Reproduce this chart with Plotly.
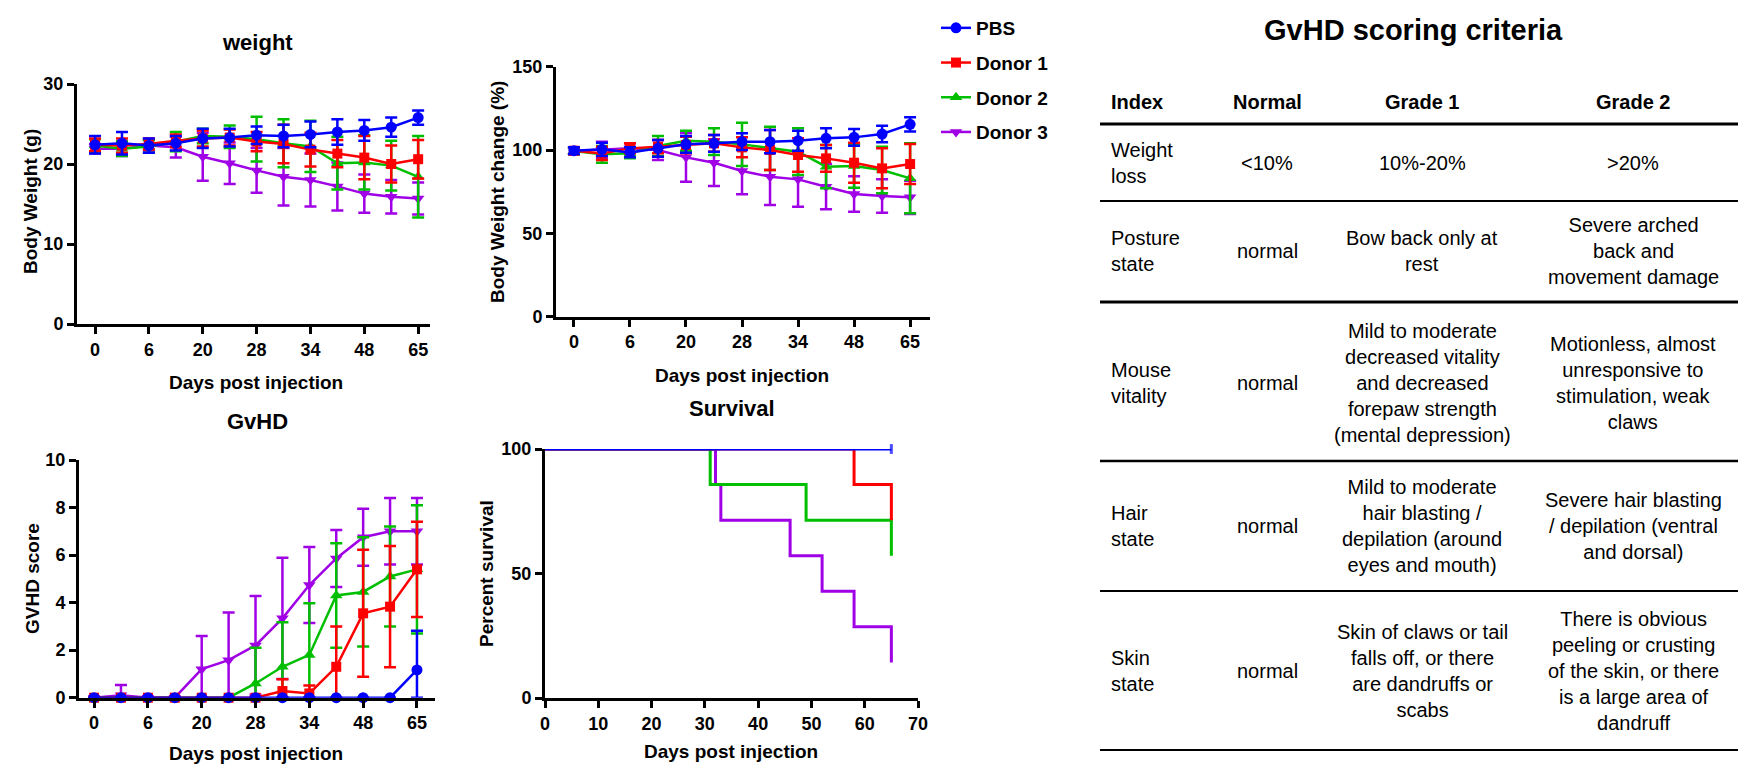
import plotly.graph_objects as go

W, H = 1738, 784
FONT = "Liberation Sans, Arial, sans-serif"

# ---------------- data ----------------
groups = ["PBS", "Donor 1", "Donor 2", "Donor 3"]
colors = ["#0000FF", "#FF0000", "#00BF00", "#A000E6"]
symbols = ["circle", "square", "triangle-up", "triangle-down"]
marker_sizes = [11, 10, 11, 11]

time_index = list(range(13))
tick_positions = [0, 2, 4, 6, 8, 10, 12]
tick_labels = ["0", "6", "20", "28", "34", "48", "65"]

weight = [
    [22.4, 22.6, 22.3, 22.6, 23.2, 23.3, 23.6, 23.5, 23.7, 24.0, 24.2, 24.6, 25.8],
    [22.4, 22.3, 22.5, 22.9, 23.2, 23.3, 22.8, 22.5, 21.8, 21.3, 20.8, 20.0, 20.6],
    [22.3, 21.9, 22.2, 22.8, 23.5, 23.4, 23.1, 22.6, 22.2, 20.1, 20.2, 19.8, 18.4],
    [21.9, 21.9, 22.3, 22.1, 20.9, 20.1, 19.2, 18.4, 18.0, 17.2, 16.3, 15.9, 15.7],
]
weight_err = [
    [1.1, 1.4, 0.9, 0.9, 1.2, 1.1, 1.1, 1.4, 1.6, 1.6, 1.3, 1.2, 0.9],
    [0.8, 0.9, 0.7, 0.8, 1.0, 1.0, 1.2, 2.4, 2.1, 1.7, 2.7, 2.3, 2.4],
    [0.8, 0.9, 0.8, 1.2, 0.9, 1.4, 2.8, 3.0, 3.2, 3.3, 3.4, 3.1, 5.1],
    [0.6, 0.9, 0.7, 1.3, 3.0, 2.6, 2.8, 3.6, 3.3, 3.0, 2.4, 2.1, 2.0],
]

change = [
    [99.6, 100.4, 98.6, 101.0, 103.4, 104.0, 105.0, 105.0, 105.6, 107.0, 107.6, 109.6, 115.4],
    [99.6, 98.0, 101.0, 102.0, 103.0, 104.0, 101.6, 100.0, 97.0, 95.0, 92.4, 89.0, 91.6],
    [99.4, 97.4, 98.0, 102.4, 105.6, 105.0, 103.4, 101.0, 99.0, 90.0, 90.4, 88.0, 83.0],
    [99.4, 100.0, 101.0, 100.0, 95.6, 92.4, 87.4, 84.0, 82.4, 78.0, 73.6, 72.4, 71.6],
]
change_err = [
    [2, 4, 3, 5, 5, 5, 5, 7, 6, 6, 5, 5, 4.3],
    [2, 4, 3, 4, 5, 5, 6, 12, 10, 8, 12, 12, 12],
    [2, 5, 3, 6, 6, 8, 13, 13, 14, 13, 13, 14, 21],
    [2, 5, 3, 6, 14.6, 14.0, 14.0, 17.0, 16.4, 13.6, 10.6, 10.0, 10.0],
]

gvhd = [
    [0, 0, 0, 0, 0, 0, 0, 0, 0, 0, 0, 0, 1.17],
    [0, 0, 0, 0, 0, 0, 0, 0.28, 0.18, 1.3, 3.55, 3.83, 5.4],
    [0, 0, 0, 0, 0, 0, 0.6, 1.3, 1.8, 4.3, 4.45, 5.1, 5.4],
    [0, 0.1, 0, 0, 1.2, 1.58, 2.2, 3.34, 4.74, 5.86, 6.75, 7.0, 7.0],
]
gvhd_err = [
    [0, 0, 0, 0, 0, 0, 0, 0, 0, 0, 0, 0, 1.65],
    [0, 0, 0, 0, 0, 0, 0, 0.5, 0.33, 1.7, 2.67, 2.55, 2.0],
    [0, 0, 0, 0, 0, 0, 1.5, 1.87, 2.17, 2.2, 2.3, 2.1, 2.7],
    [0, 0.43, 0, 0, 1.4, 2.0, 2.08, 2.55, 1.6, 1.2, 1.2, 1.4, 1.4],
]

surv_days = [
    [0, 65],
    [0, 58, 65],
    [0, 31, 49, 65],
    [0, 32, 33, 46, 52, 58, 65],
]
surv_pct = [
    [100, 100],
    [100, 85.7, 71.4],
    [100, 85.7, 71.4, 57.1],
    [100, 85.7, 71.4, 57.1, 42.9, 28.6, 14.3],
]

table_title = "GvHD scoring criteria"
table_header = ["Index", "Normal", "Grade 1", "Grade 2"]
table_index = ["Weight<br>loss", "Posture<br>state", "Mouse<br>vitality", "Hair<br>state", "Skin<br>state"]
table_normal = ["<10%", "normal", "normal", "normal", "normal"]
table_grade1 = [
    "10%-20%",
    "Bow back only at<br>rest",
    "Mild to moderate<br>decreased vitality<br>and decreased<br>forepaw strength<br>(mental depression)",
    "Mild to moderate<br>hair blasting /<br>depilation (around<br>eyes and mouth)",
    "Skin of claws or tail<br>falls off, or there<br>are dandruffs or<br>scabs",
]
table_grade2 = [
    ">20%",
    "Severe arched<br>back and<br>movement damage",
    "Motionless, almost<br>unresponsive to<br>stimulation, weak<br>claws",
    "Severe hair blasting<br>/ depilation (ventral<br>and dorsal)",
    "There is obvious<br>peeling or crusting<br>of the skin, or there<br>is a large area of<br>dandruff",
]

# ---------------- helpers ----------------
def px(x):
    return x / W

def py(y):
    return 1 - y / H

fig = go.Figure()

panels = [
    ("x", "y", weight, weight_err, True),
    ("x2", "y2", change, change_err, False),
    ("x3", "y3", gvhd, gvhd_err, False),
]

for xa, ya, data, errs, show in panels:
    for gi in [3, 2, 1, 0]:
        vals = data[gi]
        err = errs[gi]
        err_minus = [min(e, v) for e, v in zip(err, vals)] if xa == "x3" else err
        fig.add_trace(go.Scatter(
            x=time_index, y=vals, xaxis=xa, yaxis=ya,
            mode="lines+markers", name=groups[gi],
            legendgroup=groups[gi], legendrank=gi + 1, showlegend=show,
            line=dict(color=colors[gi], width=2.5),
            marker=dict(symbol=symbols[gi], size=marker_sizes[gi], color=colors[gi]),
            error_y=dict(type="data", array=err, arrayminus=err_minus, symmetric=False,
                         color=colors[gi], thickness=2.5, width=6),
            cliponaxis=False,
        ))

# survival curves: PBS drawn last so it covers the shared 100% level
for gi in [3, 2, 1]:
    fig.add_trace(go.Scatter(
        x=surv_days[gi], y=surv_pct[gi], xaxis="x4", yaxis="y4",
        mode="lines", line=dict(color=colors[gi], width=3, shape="hv"),
        showlegend=False, cliponaxis=True,
    ))
fig.add_trace(go.Scatter(
    x=surv_days[0], y=surv_pct[0], xaxis="x4", yaxis="y4",
    mode="lines+markers", line=dict(color=colors[0], width=3.2, shape="hv"),
    marker=dict(symbol="line-ns", size=[0, 7], line=dict(color=colors[0], width=3)),
    showlegend=False, cliponaxis=False,
))

axis_common = dict(
    showline=True, linewidth=3, linecolor="black", mirror=False,
    ticks="outside", ticklen=7, tickwidth=3, tickcolor="black",
    showgrid=False, zeroline=False, automargin=False,
    tickfont=dict(family=FONT, size=18, color="black", weight="bold"),
    fixedrange=True,
)

fig.update_layout(
    xaxis=dict(domain=[px(77), px(430)], range=[-0.67, 12.44], anchor="y",
               tickvals=tick_positions, ticktext=tick_labels, **axis_common),
    yaxis=dict(domain=[py(324), py(84)], range=[0, 30], anchor="x",
               tickvals=[0, 10, 20, 30], **axis_common),
    xaxis2=dict(domain=[px(556), px(930)], range=[-0.64, 12.71], anchor="y2",
                tickvals=tick_positions, ticktext=tick_labels, **axis_common),
    yaxis2=dict(domain=[py(316.7), py(66.7)], range=[0, 150], anchor="x2",
                tickvals=[0, 50, 100, 150], **axis_common),
    xaxis3=dict(domain=[px(79), px(435)], range=[-0.56, 12.67], anchor="y3",
                tickvals=tick_positions, ticktext=tick_labels, **axis_common),
    yaxis3=dict(domain=[py(697.7), py(460)], range=[0, 10], anchor="x3",
                tickvals=[0, 2, 4, 6, 8, 10], **axis_common),
    xaxis4=dict(domain=[px(545), px(918)], range=[0, 70], anchor="y4",
                tickvals=[0, 10, 20, 30, 40, 50, 60, 70], **axis_common),
    yaxis4=dict(domain=[py(698), py(449)], range=[0, 100], anchor="x4",
                tickvals=[0, 50, 100], **axis_common),
)

annotations = []

def text(x, y, s, size, bold=False, angle=0, xanchor="center", align="center"):
    annotations.append(dict(
        x=px(x), y=py(y), xref="paper", yref="paper", text=s, showarrow=False,
        xanchor=xanchor, yanchor="middle", align=align, textangle=angle,
        font=dict(family=FONT, size=size, color="black", weight="bold" if bold else "normal"),
    ))

# panel titles
text(257, 43, "weight", 22, True)
text(257, 422, "GvHD", 22, True)
text(732, 408, "Survival", 22, True)
# axis titles
for (x, y) in [(256, 382), (742, 375), (256, 753), (731, 751)]:
    text(x, y, "Days post injection", 19, True)
text(30, 202, "Body Weight (g)", 19, True, angle=-90)
text(497, 192, "Body Weight change (%)", 19, True, angle=-90)
text(32, 579, "GVHD score", 19, True, angle=-90)
text(486, 574, "Percent survival", 19, True, angle=-90)

# table
text(1413, 30, table_title, 29, True)
col_x = [1109, 1267, 1422, 1633]
for i, h in enumerate(table_header):
    if i == 0:
        text(col_x[0], 102, h, 20, True, xanchor="left", align="left")
    else:
        text(col_x[i], 102, h, 20, True)

row_y = [163, 251, 383, 526, 671]
for r, yc in enumerate(row_y):
    text(col_x[0], yc, table_index[r], 20, xanchor="left", align="left")
    text(col_x[1], yc, table_normal[r], 20)
    text(col_x[2], yc, table_grade1[r], 20)
    text(col_x[3], yc, table_grade2[r], 20)

shapes = []
for yl, wdt in [(124, 3), (201, 2), (302, 3), (461, 2.5), (591, 2), (750, 2)]:
    shapes.append(dict(type="line", xref="paper", yref="paper",
                       x0=px(1100), x1=px(1738), y0=py(yl), y1=py(yl),
                       line=dict(color="black", width=wdt)))

fig.update_layout(
    width=W, height=H,
    margin=dict(l=0, r=0, t=0, b=0, pad=0),
    paper_bgcolor="white", plot_bgcolor="white",
    annotations=annotations, shapes=shapes,
    showlegend=True,
    legend=dict(x=px(936), y=py(9), xanchor="left", yanchor="top",
                font=dict(family=FONT, size=19, color="black", weight="bold"),
                tracegroupgap=7, bgcolor="rgba(0,0,0,0)", itemwidth=30),
)

fig.write_html(
    "out.html",
    config={"displayModeBar": False},
    post_script="document.body.style.margin='0px';document.body.style.overflow='hidden';",
)
